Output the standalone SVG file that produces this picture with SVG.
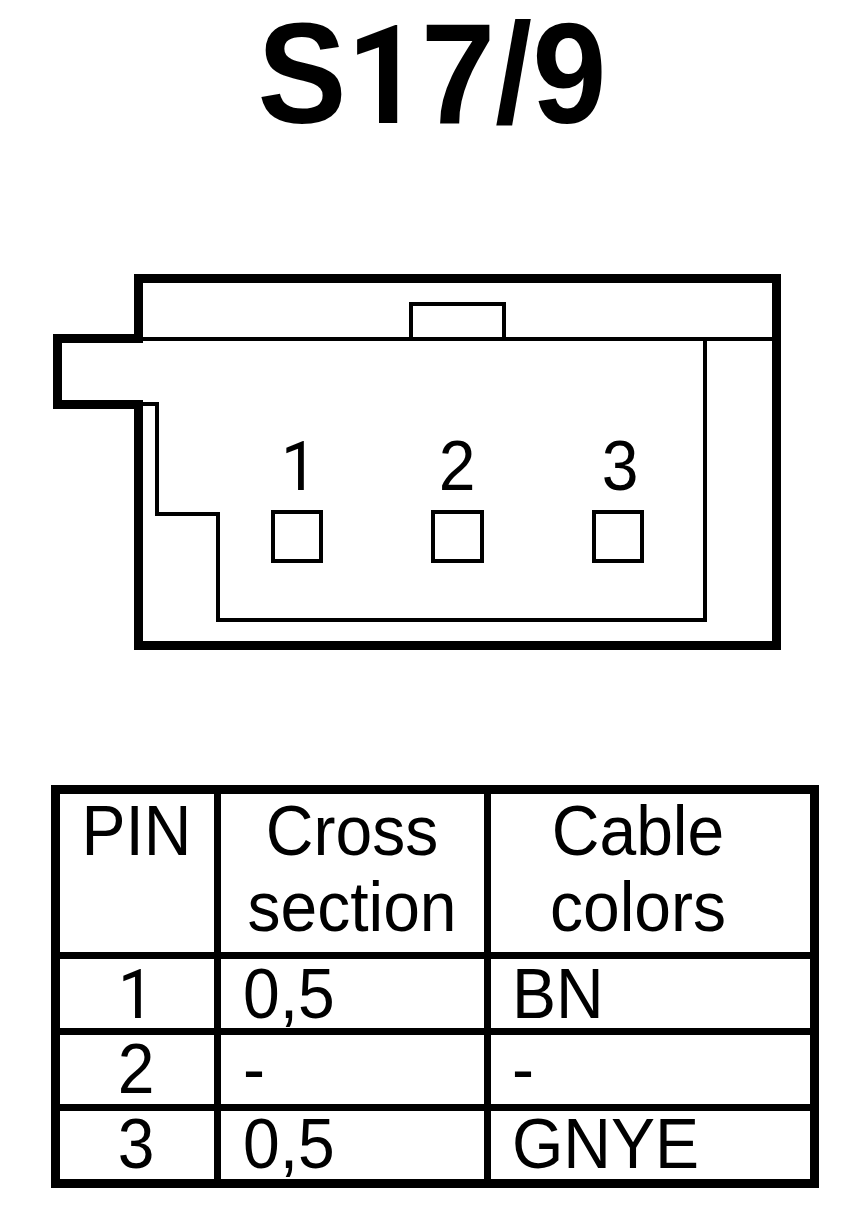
<svg xmlns="http://www.w3.org/2000/svg" width="864" height="1220" viewBox="0 0 864 1220">
<style>
.t{font-family:"Liberation Sans",Arial,sans-serif;fill:#000;text-anchor:middle}
.l{font-size:71px}
.s{text-anchor:start}
.o{font-family:Roboto,"Liberation Sans",sans-serif;font-size:.97em}
.n{font-family:Roboto,"Liberation Sans",sans-serif;font-size:69px}
.h{fill:none;stroke:#000;stroke-width:9;shape-rendering:crispEdges}
.m{fill:none;stroke:#000;stroke-width:7;shape-rendering:crispEdges}
.f{fill:none;stroke:#000;stroke-width:4;shape-rendering:crispEdges}
</style>
<rect width="864" height="1220" fill="#fff"/>
<text id="title" class="t" transform="translate(432 123) scale(.94 1)" font-size="142" font-weight="bold">S<tspan class="o">1</tspan>7/9</text>
<g id="connector-body">
<path class="h" d="M138.500 343V278.500H776.500V645.500H138.500V404.500H57.500V338.500H143"/>
<path class="f" d="M143 339H773M411 338V304H504V338M705 339V620H218V514H157V404H143"/>
</g>
<g id="pin1"><rect class="f" x="273" y="512" width="48" height="49"/><text class="t n" transform="translate(299 490) scale(.93 1)">1</text></g>
<g id="pin2"><rect class="f" x="433" y="512" width="49" height="49"/><text class="t l" transform="translate(457 490) scale(.93 1)">2</text></g>
<g id="pin3"><rect class="f" x="594" y="512" width="48" height="49"/><text class="t l" transform="translate(620 490) scale(.93 1)">3</text></g>
<g id="table">
<path class="m" d="M55 955.500H814M55 1031.500H814M55 1107.500H814M217.500 790V1183M487 790V1183"/>
<rect class="h" x="55.500" y="789.500" width="759" height="393.500"/>
<text class="t l" transform="translate(136.500 855) scale(.93 1)">PIN</text>
<text class="t l" transform="translate(352 855) scale(.93 1)">Cross</text>
<text class="t l" transform="translate(352 931) scale(.93 1)">section</text>
<text class="t l" transform="translate(638 855) scale(.93 1)">Cable</text>
<text class="t l" transform="translate(638 931) scale(.93 1)">colors</text>
<text class="t n" transform="translate(136 1018) scale(.93 1)">1</text>
<text class="t l s" transform="translate(243 1018) scale(.93 1)">0,5</text>
<text class="t l s" transform="translate(512 1018) scale(.93 1)">BN</text>
<text class="t l" transform="translate(136 1093) scale(.93 1)">2</text>
<text class="t l s" transform="translate(243 1093) scale(.93 1)">-</text>
<text class="t l s" transform="translate(512 1093) scale(.93 1)">-</text>
<text class="t l" transform="translate(136 1168) scale(.93 1)">3</text>
<text class="t l s" transform="translate(243 1168) scale(.93 1)">0,5</text>
<text class="t l s" transform="translate(512 1168) scale(.93 1)">GNYE</text>
</g>
</svg>
